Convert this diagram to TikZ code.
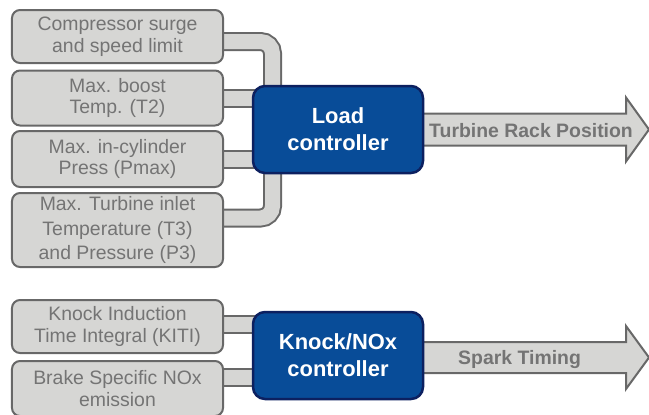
\documentclass[tikz,border=0pt]{standalone}
\definecolor{boxgray}{RGB}{214,214,212}
\definecolor{edgegray}{RGB}{104,104,104}
\definecolor{textgray}{RGB}{116,116,116}
\definecolor{ctrlblue}{RGB}{8,76,152}
\definecolor{ctrledge}{RGB}{12,32,96}
\usepackage{fontspec}
\setmainfont{Liberation Sans}
\usepackage{tikz}
\usetikzlibrary{backgrounds}

\begin{document}
\begin{tikzpicture}[x=1bp, y=-1bp,
    inbox/.style={draw=edgegray, line width=2bp, fill=boxgray, rounded corners=8bp,
      minimum width=211bp, inner sep=2bp, align=center, text=textgray,
      font=\fontsize{19.5}{22}\selectfont},
    ctrl/.style={draw=ctrledge, line width=2.5bp, fill=ctrlblue, rounded corners=12bp,
      minimum width=170bp, minimum height=87bp, align=center, text=white,
      font=\fontsize{22}{27}\selectfont\bfseries},
    pipe/.style={draw=edgegray, line width=2bp, double=boxgray, double distance=15bp,
      rounded corners=12bp},
    flow/.style={draw=edgegray, line width=2bp, fill=boxgray, line join=miter},
    flowtext/.style={inner sep=0pt, text=textgray, font=\fontsize{19.5}{22}\selectfont\bfseries}]
  \useasboundingbox (0,0) rectangle (649,414);
  %% 1. Inputs
  \node[inbox, minimum height=53bp] (inA) at (117.5,36.5) {Compressor surge\\and speed limit};
  \node[inbox, minimum height=55bp] (inB) at (117.5,98) {Max. boost\\Temp. (T2)};
  \node[inbox, minimum height=56bp] (inC) at (117.5,159) {Max. in-cylinder\\Press (Pmax)};
  \node[inbox, minimum height=74bp, font=\fontsize{19.5}{24.5}\selectfont] (inD) at (117.5,230)
    {Max. Turbine inlet\\Temperature (T3)\\and Pressure (P3)};
  \node[inbox, minimum height=53bp] (inE) at (117.5,326.5) {Knock Induction\\Time Integral (KITI)};
  \node[inbox, minimum height=55bp] (inF) at (117.5,388.5) {Brake Specific NOx\\emission};
  %% 2. Controllers
  \node[ctrl] (load) at (338,129.5) {Load\\controller};
  \node[ctrl] (knock) at (338,355.5) {Knock/NOx\\controller};
  \coordinate (bus) at (272.5,130);
  \coordinate (rackHead) at (626,129.5);
  \coordinate (rackTip) at (649,129.5);
  \coordinate (sparkHead) at (626,357.5);
  \coordinate (sparkTip) at (649,357.5);
  %% 3. Pipes and outputs
  \begin{scope}[on background layer]
    \draw[pipe] ([xshift=-6bp,yshift=-5bp]inA.east) -| (bus) |- ([xshift=-6bp,yshift=12bp]inD.east);
    \draw[pipe] ([xshift=-6bp]inB.east) -- (inB -| load);
    \draw[pipe] ([xshift=-6bp]inC.east) -- (inC -| load);
    \draw[pipe] ([xshift=-6bp,yshift=2bp]inE.east) -- ([yshift=2bp]inE -| knock);
    \draw[pipe] ([xshift=-6bp,yshift=11bp]inF.east) -- ([yshift=11bp]inF -| knock);
    \draw[flow] ([yshift=16bp]load.center) -- ([yshift=16bp]rackHead) -- ([yshift=32bp]rackHead)
      -- (rackTip) -- ([yshift=-32bp]rackHead) -- ([yshift=-16bp]rackHead)
      -- ([yshift=-16bp]load.center) -- cycle;
    \draw[flow] ([yshift=15.5bp]sparkHead -| knock) -- ([yshift=15.5bp]sparkHead) -- ([yshift=31.5bp]sparkHead)
      -- (sparkTip) -- ([yshift=-31.5bp]sparkHead) -- ([yshift=-15.5bp]sparkHead)
      -- ([yshift=-15.5bp]sparkHead -| knock) -- cycle;
  \end{scope}
  %% 4. Output labels
  \node[flowtext, anchor=base west] (rackLabel) at (429,137) {Turbine Rack Position};
  \node[flowtext, anchor=base west] (sparkLabel) at (458,364.5) {Spark Timing};
\end{tikzpicture}
\end{document}
